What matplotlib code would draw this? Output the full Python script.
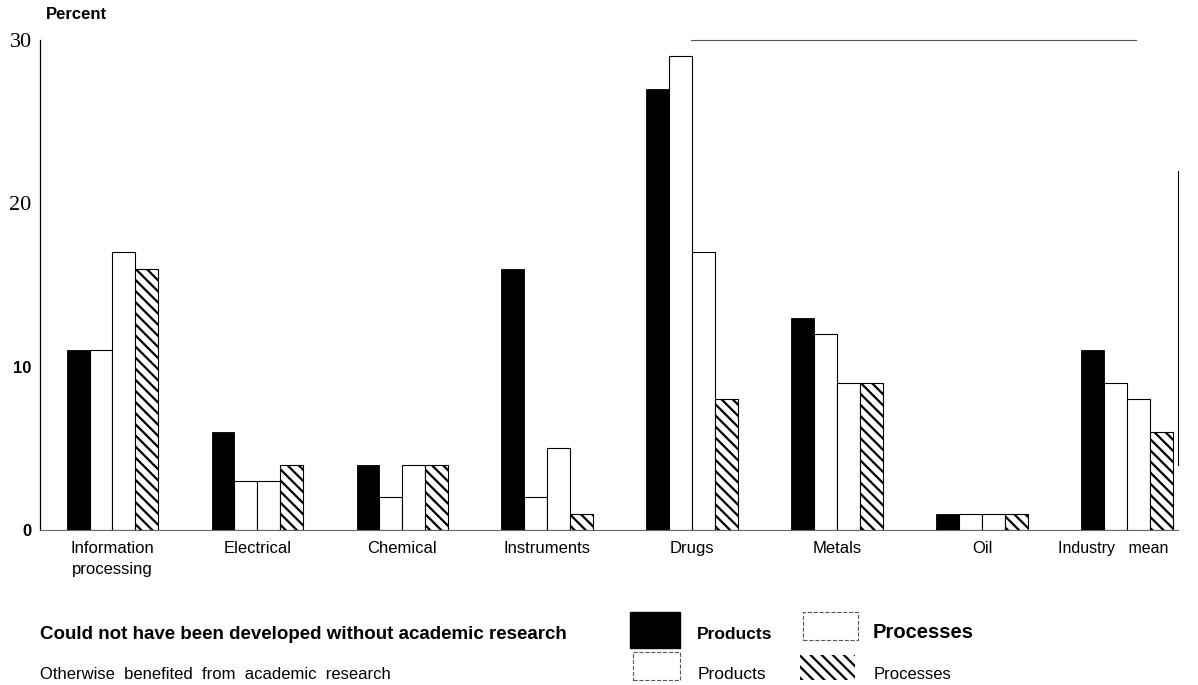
import matplotlib
matplotlib.use('Agg')
import matplotlib.pyplot as plt
from matplotlib.patches import Rectangle
from matplotlib.transforms import ScaledTranslation
import numpy as np

# categories and values (percent)
categories = ['Information\nprocessing', 'Electrical', 'Chemical', 'Instruments',
              'Drugs', 'Metals', 'Oil', 'Industry   mean']
could_not_products = [11, 6, 4, 16, 27, 13, 1, 11]
could_not_processes = [11, 3, 2, 2, 29, 12, 1, 9]
benefited_products = [17, 3, 4, 5, 17, 9, 1, 8]
benefited_processes = [16, 4, 4, 1, 8, 9, 1, 6]

plt.rcParams['font.family'] = ['Liberation Sans', 'DejaVu Sans']
plt.rcParams['hatch.linewidth'] = 1.6

fig = plt.figure(figsize=(11.98, 6.85), dpi=100)
ax = fig.add_axes([0.0334, 0.226, 0.9496, 0.716])

x = np.arange(len(categories))
w = 0.158
ax.bar(x - 1.5 * w, could_not_products, w, color='black', edgecolor='black', linewidth=0.6)
ax.bar(x - 0.5 * w, could_not_processes, w, color='white', edgecolor='black', linewidth=0.8)
ax.bar(x + 0.5 * w, benefited_products, w, color='white', edgecolor='black', linewidth=0.8)
ax.bar(x + 1.5 * w, benefited_processes, w, color='white', edgecolor='black', linewidth=0.8,
       hatch='\\\\\\')

ax.set_xlim(-0.5, 7.35)
ax.set_ylim(0, 30)
ax.set_xticks(x)
ax.set_xticklabels(categories, fontsize=12, linespacing=1.5)
ax.tick_params(axis='x', length=0, pad=8)
ax.tick_params(axis='y', length=0, pad=6)
ax.set_yticks([0, 10, 20, 30])
ax.set_yticklabels(['0', '10', '20', '30'])
ylabs = ax.get_yticklabels()
for lab, serif in zip(ylabs, [False, False, True, True]):
    if serif:
        lab.set_family('Liberation Serif')
        lab.set_fontsize(16)
    else:
        lab.set_fontweight('bold')
        lab.set_fontsize(12)

# the last label sits a bit left of its group in the original
last = ax.get_xticklabels()[-1]
last.set_fontsize(11.5)
last.set_transform(last.get_transform() + ScaledTranslation(-0.14, 0, fig.dpi_scale_trans))

# scanned-looking partial frame
ax.spines['top'].set_bounds(3.99, 7.06)
ax.spines['top'].set_color('#555555')
ax.spines['right'].set_bounds(4, 22)
ax.spines['bottom'].set_color('#666666')
ax.spines['left'].set_linewidth(0.9)

fig.text(0.038, 0.979, 'Percent', fontsize=12, fontweight='bold', va='center')

# legend block
fig.text(0.033, 0.073, 'Could not have been developed without academic research',
         fontsize=13.5, fontweight='bold', va='center')
fig.text(0.033, 0.016, 'Otherwise  benefited  from  academic  research',
         fontsize=12, va='center')

fig.add_artist(Rectangle((0.526, 0.054), 0.042, 0.053, transform=fig.transFigure,
                         facecolor='black', edgecolor='black'))
fig.text(0.582, 0.073, 'Products', fontsize=12.5, fontweight='bold', va='center')
fig.add_artist(Rectangle((0.670, 0.066), 0.046, 0.041, transform=fig.transFigure,
                         facecolor='white', edgecolor='#555555', linewidth=0.8, linestyle='--'))
fig.text(0.728, 0.076, 'Processes', fontsize=14.5, fontweight='bold', va='center')

fig.add_artist(Rectangle((0.528, 0.007), 0.040, 0.041, transform=fig.transFigure,
                         facecolor='white', edgecolor='#555555', linewidth=0.8, linestyle='--'))
fig.text(0.582, 0.016, 'Products', fontsize=12.5, va='center')
fig.add_artist(Rectangle((0.668, 0.007), 0.046, 0.037, transform=fig.transFigure,
                         facecolor='white', edgecolor='black', hatch='\\\\\\', linewidth=0))
fig.text(0.729, 0.016, 'Processes', fontsize=12, va='center')

fig.savefig('out.png', dpi=100)
